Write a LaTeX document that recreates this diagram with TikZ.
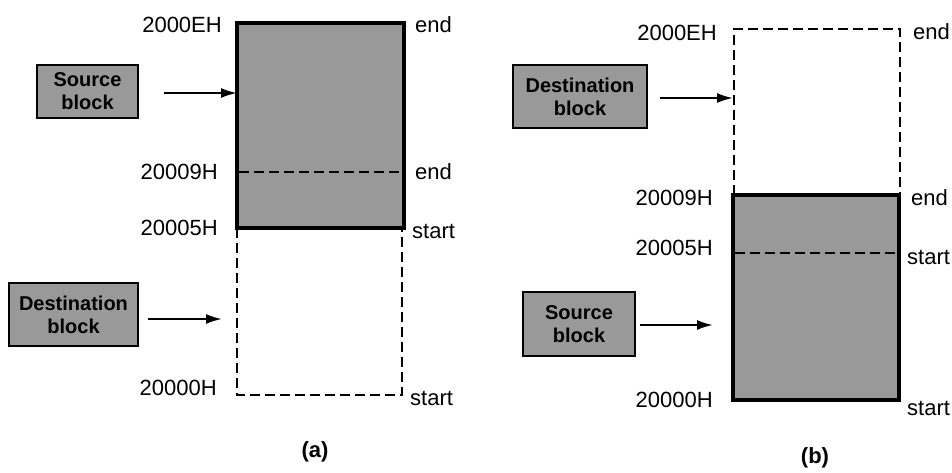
\documentclass[tikz,border=0pt]{standalone}
\usepackage{fontspec}
\setmainfont{Liberation Sans}
\usetikzlibrary{arrows.meta,calc}
\begin{document}
\begin{tikzpicture}[x=1pt,y=-1pt,
  shade fill/.style={fill=black!40},
  memblock/.style={shade fill,draw=black,line width=3.4pt},
  emptyblock/.style={draw=black,line width=2.4pt,dash pattern=on 10pt off 5pt},
  splitline/.style={draw=black,line width=2.4pt,dash pattern=on 10pt off 5pt},
  tagbox/.style={shade fill,draw=black,line width=2.2pt,inner sep=0pt,align=center,
    font=\fontsize{20}{23}\selectfont\bfseries},
  addr/.style={inner sep=0pt,anchor=east,font=\fontsize{22}{26}\selectfont},
  mark label/.style={inner sep=0pt,anchor=west,font=\fontsize{22}{26}\selectfont},
  caption/.style={inner sep=0pt,font=\fontsize{22}{26}\selectfont\bfseries},
  arr/.style={-{Latex[length=16pt,width=10pt]},line width=2pt}]
\useasboundingbox (0,0) rectangle (952,472);

% ---------- (a) ----------
\draw[memblock] (237,23) rectangle (404,228);
\draw[splitline] (239,172) -- (402,172);
\draw[emptyblock] (237,228) -- (237,395) -- (402,395) -- (402,228);

\node[addr] (a1) at (222,25) {2000EH};
\node[addr] (a2) at (218,172) {20009H};
\node[addr] (a3) at (218,228) {20005H};
\node[addr] (a4) at (217,388) {20000H};
\node[mark label] (a5) at (415,25) {end};
\node[mark label] (a6) at (415,172) {end};
\node[mark label] (a7) at (412,231) {start};
\node[mark label] (a8) at (410,398) {start};

\node[tagbox,minimum width=101pt,minimum height=53pt] (srcA) at (87.5,91.5) {Source\\block};
\node[tagbox,minimum width=129pt,minimum height=63pt] (dstA) at (73.5,314.5) {Destination\\block};
\coordinate (tipSrcA) at (237,93);
\coordinate (tipDstA) at (222,319);
\draw[arr,shorten <=25pt] (srcA.east |- tipSrcA) -- (tipSrcA);
\draw[arr,shorten <=9pt] (dstA.east |- tipDstA) -- (tipDstA);

\node[caption] (capA) at (315,452) {(a)};

% ---------- (b) ----------
\draw[emptyblock] (734,195) -- (734,29) -- (900,29) -- (900,195);
\draw[memblock] (733,195) rectangle (899,400);
\draw[splitline] (735,253) -- (897,253);

\node[addr] (b1) at (717,33) {2000EH};
\node[addr] (b2) at (713,198) {20009H};
\node[addr] (b3) at (713,248) {20005H};
\node[addr] (b4) at (713,400) {20000H};
\node[mark label] (b5) at (913,32) {end};
\node[mark label] (b6) at (911,198) {end};
\node[mark label] (b7) at (907,257) {start};
\node[mark label] (b8) at (907,408) {start};

\node[tagbox,minimum width=134pt,minimum height=63pt] (dstB) at (580,96.5) {Destination\\block};
\node[tagbox,minimum width=112pt,minimum height=64pt] (srcB) at (579,324) {Source\\block};
\coordinate (tipDstB) at (733,98);
\coordinate (tipSrcB) at (713,325);
\draw[arr,shorten <=12pt] (dstB.east |- tipDstB) -- (tipDstB);
\draw[arr,shorten <=4pt] (srcB.east |- tipSrcB) -- (tipSrcB);

\node[caption] (capB) at (815,458) {(b)};
\end{tikzpicture}
\end{document}
